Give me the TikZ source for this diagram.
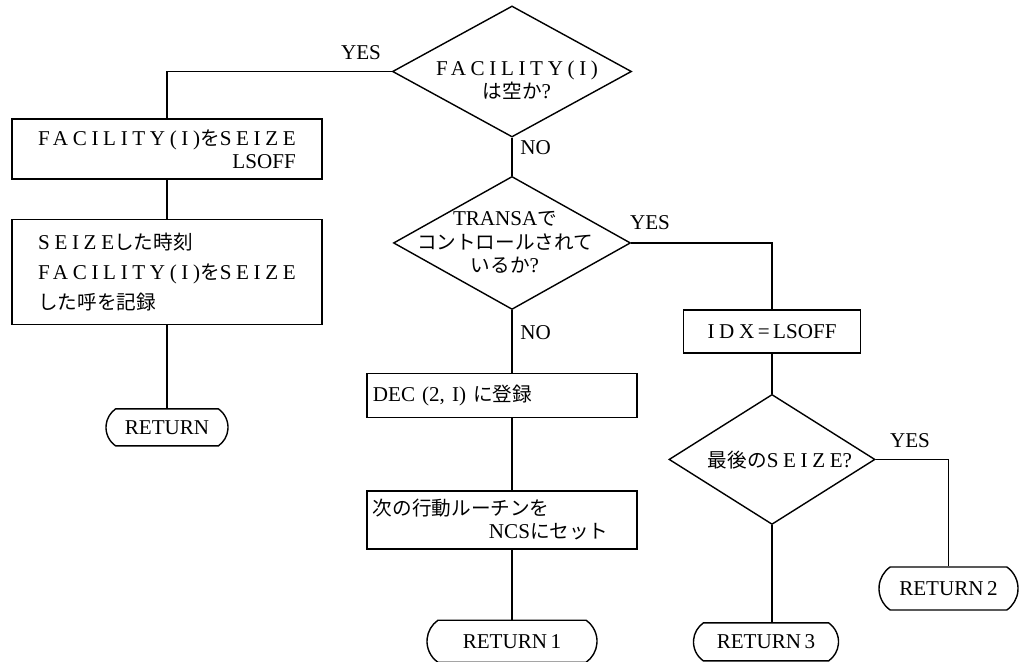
\documentclass[tikz,border=0pt]{standalone}
\usepackage{fontspec}
\setmainfont{Liberation Serif}
\newfontfamily\cjk{Noto Sans CJK JP}[Scale=0.93]
\newcommand{\ja}[1]{{\cjk #1}}
\newcommand{\lsp}[1]{{\addfontfeatures{LetterSpace=22}#1}}
\usetikzlibrary{positioning,shapes.geometric,shapes.misc}
\tikzset{
    chart/.style    = {x=0.025cm, y=-0.025cm,
                       font=\fontsize{15}{16.5}\selectfont},
    line/.style     = {line width=1pt},
    block/.style    = {draw, line width=1pt, inner xsep=0.15cm, inner ysep=0pt},
    decision/.style = {draw, diamond, line width=1pt, inner sep=0pt},
    dtext/.style    = {align=center, inner sep=0pt},
    terminal/.style = {draw, rounded rectangle,
                       rounded rectangle arc length=110,
                       line width=1pt, inner sep=0pt},
    lab/.style      = {inner sep=0pt}
}

\begin{document}
\begin{tikzpicture}[chart]
\useasboundingbox (0,0) rectangle (1020,662);

% Test on the facility, then the seize branch on the left
\node[decision, minimum width=5.975cm, minimum height=3.275cm] (d1) at (512,71.5) {};
\node[dtext] (d1t) at (517,80) {\lsp{FACILITY(I)}\\ \ja{は空か}?};

\node[block, minimum width=7.75cm, minimum height=1.5cm, align=right]
    (b1) at (167,149) {\lsp{FACILITY(I)}\ja{を}\lsp{SEIZE}\\ LSOFF};
\node[block, minimum width=7.75cm, minimum height=2.625cm, align=left,
      below=0.975cm of b1]
    (b2) {\lsp{SEIZE}\ja{した時刻}\\[5pt]
          \lsp{FACILITY(I)}\ja{を}\lsp{SEIZE}\\[5pt]
          \ja{した呼を記録}};
\node[terminal, minimum width=3.05cm, minimum height=0.925cm,
      below=2.075cm of b2] (r0) {RETURN};

% Middle column: is the call controlled by TRANSA?
\node[decision, minimum width=5.925cm, minimum height=3.325cm,
      below=0.95cm of d1] (d2) {};
\node[dtext] (d2t) at (505,242.5)
    {TRANSA\ja{で}\\ \ja{コントロールされて}\\ \ja{いるか}?};

\node[block, minimum width=6.75cm, minimum height=1.1cm,
      text width=6.45cm, align=left,
      below=1.5625cm of d2, xshift=-0.25cm] (dec) {DEC (2, I) \ja{に登録}};
\node[block, minimum width=6.75cm, minimum height=1.45cm,
      text width=6.45cm, align=left, below=1.8cm of dec]
    (nxt) {\ja{次の行動ルーチンを}\\ \hspace*{5.5em}NCS\ja{にセット}};
\node[terminal, minimum width=4.25cm, minimum height=1.05cm,
      below=1.75cm of nxt, xshift=0.25cm] (r1) {RETURN\,1};

% Right column: last seize?
\node[block, minimum width=4.425cm, minimum height=1.075cm]
    (idx) at (772,331.5) {\lsp{IDX}\,=\,LSOFF};
\node[decision, minimum width=5.15cm, minimum height=3.25cm,
      below=1.0cm of idx] (d3) {};
\node[dtext] (d3t) at (780,460) {\ja{最後の}\lsp{SEIZE}?};
\node[terminal, minimum width=3.625cm, minimum height=0.95cm,
      below=2.425cm of d3, xshift=-0.15cm] (r3) {RETURN\,3};
\node[terminal, minimum width=3.475cm, minimum height=1.075cm]
    (r2) at (948.5,588.5) {RETURN\,2};

% Branch labels
\node[lab] (yes1) at (361,53) {YES};
\node[lab, anchor=west] (no1) at (520,148) {NO};
\node[lab] (yes2) at (650,223) {YES};
\node[lab, anchor=west] (no2) at (520,333) {NO};
\node[lab] (yes3) at (910,441) {YES};

% Connectors
\draw[line] (d1.west) -| (b1.north);
\draw[line] (b1.south) -- (b2.north);
\draw[line] (b2.south) -- (r0.north);
\draw[line] (d1.south) -- (d2.north);
\draw[line] (d2.south) -- (d2.south |- dec.north);
\draw[line] (r1.north |- dec.south) -- (r1.north |- nxt.north);
\draw[line] (r1.north |- nxt.south) -- (r1.north);
\draw[line] (d2.east) -| (idx.north);
\draw[line] (idx.south) -- (d3.north);
\draw[line] (d3.south) -- (d3.south |- r3.north);
\draw[line] (d3.east) -| (r2.north);

\end{tikzpicture}
\end{document}
